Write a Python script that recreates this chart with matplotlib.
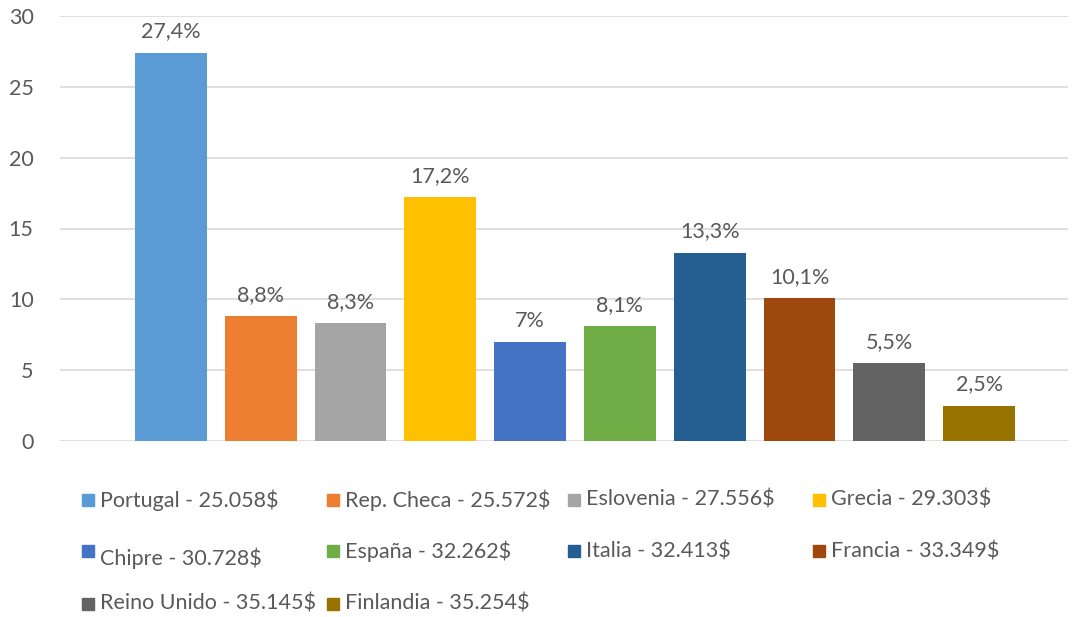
import matplotlib.pyplot as plt
from matplotlib.patches import Rectangle

paises = ["Portugal", "Rep. Checa", "Eslovenia", "Grecia", "Chipre",
          "España", "Italia", "Francia", "Reino Unido", "Finlandia"]
salarios = ["25.058$", "25.572$", "27.556$", "29.303$", "30.728$",
            "32.262$", "32.413$", "33.349$", "35.145$", "35.254$"]
valores = [27.4, 8.8, 8.3, 17.2, 7.0, 8.1, 13.3, 10.1, 5.5, 2.5]
etiquetas = ["27,4%", "8,8%", "8,3%", "17,2%", "7%", "8,1%", "13,3%", "10,1%", "5,5%", "2,5%"]
colores = ["#5B9BD5", "#ED7D31", "#A5A5A5", "#FFC000", "#4472C4",
           "#70AD47", "#255E91", "#9E480E", "#636363", "#997300"]

plt.rcParams['font.family'] = ['Lato', 'DejaVu Sans']
gris = "#595959"
fs = 15.5

fig = plt.figure(figsize=(10.83, 6.17), dpi=100)
ax = fig.add_axes([60 / 1083, 1 - 441 / 617, 1008 / 1083, 425 / 617])

x = list(range(len(paises)))
ax.bar(x, valores, width=0.8, color=colores, zorder=2)
for xi, v, lab in zip(x, valores, etiquetas):
    ax.text(xi, v + 1.5, lab, ha="center", va="center", fontsize=fs, color=gris)

ax.set_xlim(-1.236, 9.99)
ax.set_ylim(0, 30)
ax.set_yticks([0, 5, 10, 15, 20, 25, 30])
ax.yaxis.grid(True, color="#D9D9D9", linewidth=1.2, zorder=0)
ax.set_xticks([])
for s in ax.spines.values():
    s.set_visible(False)
ax.tick_params(axis="y", length=0, labelsize=fs, labelcolor=gris, pad=19)

# leyenda manual, 4 por fila
col_x = [82, 327, 568, 813]
fila_y = [500, 551, 604]
for i, (p, s, c) in enumerate(zip(paises, salarios, colores)):
    fila, col = divmod(i, 4)
    px = col_x[col]
    py = fila_y[fila]
    fig.patches.append(Rectangle((px / 1083, 1 - (py + 6) / 617), 12 / 1083, 12 / 617,
                                 transform=fig.transFigure, color=c))
    dy = 7 if p == "Chipre" else 0
    fig.text((px + 18) / 1083, 1 - (py + dy) / 617, p + " - " + s,
             ha="left", va="center", fontsize=fs, color=gris)

fig.savefig("out.png", dpi=100)
